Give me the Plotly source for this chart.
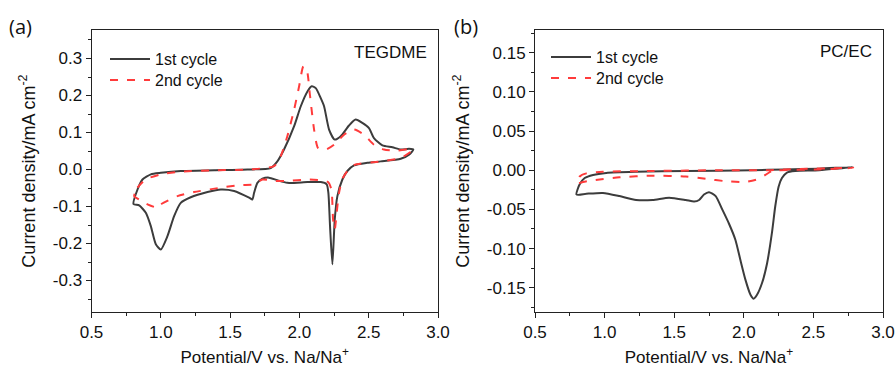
import plotly.graph_objects as go

# ---------------- data ----------------
# (a) TEGDME, 1st cycle
a1_x = [0.803, 0.832, 0.868, 0.928, 1.000, 1.144, 1.385, 1.625, 1.793, 1.841, 1.889, 1.962, 2.010, 2.058,
        2.089, 2.118, 2.154, 2.178, 2.214, 2.255, 2.298, 2.358, 2.406, 2.454, 2.502, 2.538, 2.599, 2.671,
        2.731, 2.791, 2.822,
        2.791, 2.731, 2.587, 2.490, 2.394, 2.346, 2.310, 2.274, 2.255, 2.238, 2.221, 2.209, 2.197, 2.154,
        2.058, 1.913, 1.841, 1.781, 1.733, 1.697, 1.673, 1.661, 1.637, 1.529, 1.433, 1.337, 1.216, 1.144,
        1.096, 1.048, 1.000, 0.964, 0.928, 0.892, 0.844, 0.803]
a1_y = [-0.093, -0.054, -0.027, -0.013, -0.009, -0.004, -0.002, 0.000, 0.004, 0.022, 0.054, 0.117, 0.171, 0.211,
        0.225, 0.220, 0.193, 0.171, 0.108, 0.081, 0.090, 0.119, 0.135, 0.126, 0.112, 0.085, 0.065, 0.060,
        0.054, 0.056, 0.054,
        0.040, 0.029, 0.022, 0.018, 0.011, -0.004, -0.027, -0.072, -0.135, -0.256, -0.153, -0.063, -0.040, -0.034,
        -0.034, -0.036, -0.029, -0.022, -0.025, -0.036, -0.063, -0.081, -0.076, -0.058, -0.054, -0.061, -0.075, -0.090,
        -0.126, -0.180, -0.216, -0.202, -0.153, -0.117, -0.097, -0.093]

# (a) TEGDME, 2nd cycle
a2_x = [0.808, 0.832, 0.890, 1.000, 1.144, 1.385, 1.625, 1.817, 1.865, 1.913, 1.962, 1.998, 2.029, 2.053,
        2.077, 2.106, 2.135, 2.190, 2.250, 2.322, 2.394, 2.466, 2.538, 2.610, 2.707, 2.803, 2.815,
        2.731, 2.587, 2.394, 2.346, 2.310, 2.286, 2.269, 2.255, 2.243, 2.231, 2.207, 2.154, 2.058, 1.913,
        1.817, 1.733, 1.673, 1.577, 1.433, 1.240, 1.120, 1.000, 0.976, 0.904, 0.844, 0.808]
a2_y = [-0.072, -0.049, -0.027, -0.013, -0.006, -0.002, 0.000, 0.009, 0.036, 0.090, 0.162, 0.225, 0.279, 0.270,
        0.198, 0.108, 0.058, 0.054, 0.067, 0.094, 0.108, 0.094, 0.067, 0.054, 0.051, 0.056, 0.052,
        0.031, 0.022, 0.012, -0.004, -0.025, -0.063, -0.117, -0.162, -0.135, -0.054, -0.034, -0.029, -0.027, -0.031,
        -0.031, -0.027, -0.040, -0.042, -0.049, -0.061, -0.072, -0.094, -0.103, -0.094, -0.081, -0.072]

# (b) PC/EC, 1st cycle
b1_x = [0.798, 0.821, 0.857, 0.917, 1.012, 1.226, 1.583, 2.060, 2.300, 2.540, 2.786,
        2.540, 2.369, 2.310, 2.274, 2.250, 2.226, 2.202, 2.167, 2.131, 2.095, 2.071, 2.048, 2.012, 1.976,
        1.940, 1.893, 1.845, 1.798, 1.750, 1.714, 1.679, 1.643, 1.583, 1.464, 1.345, 1.226, 1.107, 0.988,
        0.869, 0.798]
b1_y = [-0.031, -0.018, -0.010, -0.006, -0.0034, -0.002, -0.001, 0.000, 0.001, 0.002, 0.004,
        0.000, -0.001, -0.003, -0.010, -0.021, -0.046, -0.080, -0.119, -0.144, -0.159, -0.164, -0.159, -0.140, -0.115,
        -0.089, -0.068, -0.050, -0.033, -0.028, -0.031, -0.038, -0.040, -0.038, -0.035, -0.038, -0.038, -0.033, -0.029,
        -0.030, -0.031]

# (b) PC/EC, 2nd cycle
b2_x = [0.802, 0.821, 0.869, 0.988, 1.345, 1.821, 2.179, 2.300, 2.786,
        2.540, 2.250, 2.200, 2.155, 2.107, 2.012, 1.869, 1.726, 1.583, 1.345, 1.107, 0.917, 0.845, 0.802]
b2_y = [-0.017, -0.008, -0.004, -0.002, -0.001, 0.000, 0.000, 0.001, 0.003,
        0.001, 0.000, -0.001, -0.006, -0.011, -0.015, -0.014, -0.011, -0.008, -0.007, -0.009, -0.013, -0.015, -0.017]

series_names = ["1st cycle", "2nd cycle"]
panel_labels = ["(a)", "(b)"]
solvents = ["TEGDME", "PC/EC"]
x_ticks = [0.5, 1.0, 1.5, 2.0, 2.5, 3.0]
ya_ticks = [-0.3, -0.2, -0.1, 0.0, 0.1, 0.2, 0.3]
yb_ticks = [-0.15, -0.10, -0.05, 0.0, 0.05, 0.10, 0.15]

# ---------------- styles ----------------
C1 = "#3c3c3c"
C2 = "#ff3b3b"
FONT = "Liberation Sans, Arial, sans-serif"
W, H = 896, 367

def line(color, dash=None):
    d = dict(color=color, width=2, shape="spline", smoothing=0.6)
    if dash:
        d["dash"] = dash
    return d

fig = go.Figure()
fig.add_trace(go.Scatter(x=a1_x, y=a1_y, mode="lines", name=series_names[0],
                         line=line(C1), legend="legend", xaxis="x", yaxis="y"))
fig.add_trace(go.Scatter(x=a2_x, y=a2_y, mode="lines", name=series_names[1],
                         line=line(C2, "8px,9px"), legend="legend2", xaxis="x", yaxis="y"))
fig.add_trace(go.Scatter(x=b1_x, y=b1_y, mode="lines", name=series_names[0],
                         line=line(C1), legend="legend3", xaxis="x2", yaxis="y2"))
fig.add_trace(go.Scatter(x=b2_x, y=b2_y, mode="lines", name=series_names[1],
                         line=line(C2, "8px,9px"), legend="legend4", xaxis="x2", yaxis="y2"))

y_dom = [1 - 312 / H, 1 - 30 / H]
xa_dom = [91.5 / W, 438 / W]
xb_dom = [535 / W, 883 / W]

common_axis = dict(showline=True, linecolor="#222", linewidth=1, mirror=True, ticks="outside",
                   ticklen=5, tickcolor="#222", showgrid=False, zeroline=False, automargin=False,
                   tickfont=dict(family=FONT, size=17, color="#111"))

xt = dict(text="Potential/V vs. Na/Na<sup>+</sup>", font=dict(family=FONT, size=17, color="#111"), standoff=10)
yt = dict(text="Current density/mA cm<sup>-2</sup>", font=dict(family=FONT, size=18, color="#111"), standoff=12)

def leg(xpx, ypx):
    return dict(x=xpx / W, y=1 - ypx / H, xanchor="left", yanchor="middle", bgcolor="rgba(0,0,0,0)",
                font=dict(family=FONT, size=16, color="#111"), itemwidth=40, borderwidth=0)

fig.update_layout(
    width=W, height=H, margin=dict(l=0, r=0, t=0, b=0, autoexpand=False),
    paper_bgcolor="white", plot_bgcolor="white",
    xaxis=dict(domain=xa_dom, anchor="y", range=[0.5, 3.0], tickvals=x_ticks, ticktext=[f"{v:.1f}" for v in x_ticks],
               minor=dict(ticks="outside", ticklen=3, dtick=0.25, tick0=0.5, tickcolor="#222"),
               title=xt, **common_axis),
    yaxis=dict(domain=y_dom, anchor="x", range=[-0.385, 0.377], tickvals=ya_ticks,
               ticktext=[f"{v:.1f}" for v in ya_ticks],
               minor=dict(ticks="outside", ticklen=3, dtick=0.05, tick0=0, tickcolor="#222"),
               title=yt, **common_axis),
    xaxis2=dict(domain=xb_dom, anchor="y2", range=[0.5, 3.0], tickvals=x_ticks, ticktext=[f"{v:.1f}" for v in x_ticks],
                minor=dict(ticks="outside", ticklen=3, dtick=0.25, tick0=0.5, tickcolor="#222"),
                title=xt, **common_axis),
    yaxis2=dict(domain=y_dom, anchor="x2", range=[-0.181, 0.179], tickvals=yb_ticks,
                ticktext=[f"{v:.2f}" for v in yb_ticks],
                minor=dict(ticks="outside", ticklen=3, dtick=0.025, tick0=0, tickcolor="#222"),
                title=yt, **common_axis),
    legend=leg(105, 59), legend2=leg(105, 80),
    legend3=leg(546, 57), legend4=leg(546, 78),
    showlegend=True,
)

annots = [
    dict(text=panel_labels[0], x=7 / W, y=1 - 27 / H, xanchor="left", yanchor="middle"),
    dict(text=panel_labels[1], x=452 / W, y=1 - 27 / H, xanchor="left", yanchor="middle"),
]
for a in annots:
    fig.add_annotation(xref="paper", yref="paper", showarrow=False,
                       font=dict(family="Open Sans, sans-serif", size=20, color="#111"), **a)

fig.add_annotation(xref="x domain", yref="y domain", x=0.975, y=0.92, xanchor="right", yanchor="middle",
                   text=solvents[0], showarrow=False, font=dict(family=FONT, size=17, color="#111"))
fig.add_annotation(xref="x2 domain", yref="y2 domain", x=0.975, y=0.925, xanchor="right", yanchor="middle",
                   text=solvents[1], showarrow=False, font=dict(family=FONT, size=17, color="#111"))

fig.write_html("out.html", config={"displayModeBar": False},
               post_script="document.body.style.margin='0px';")
